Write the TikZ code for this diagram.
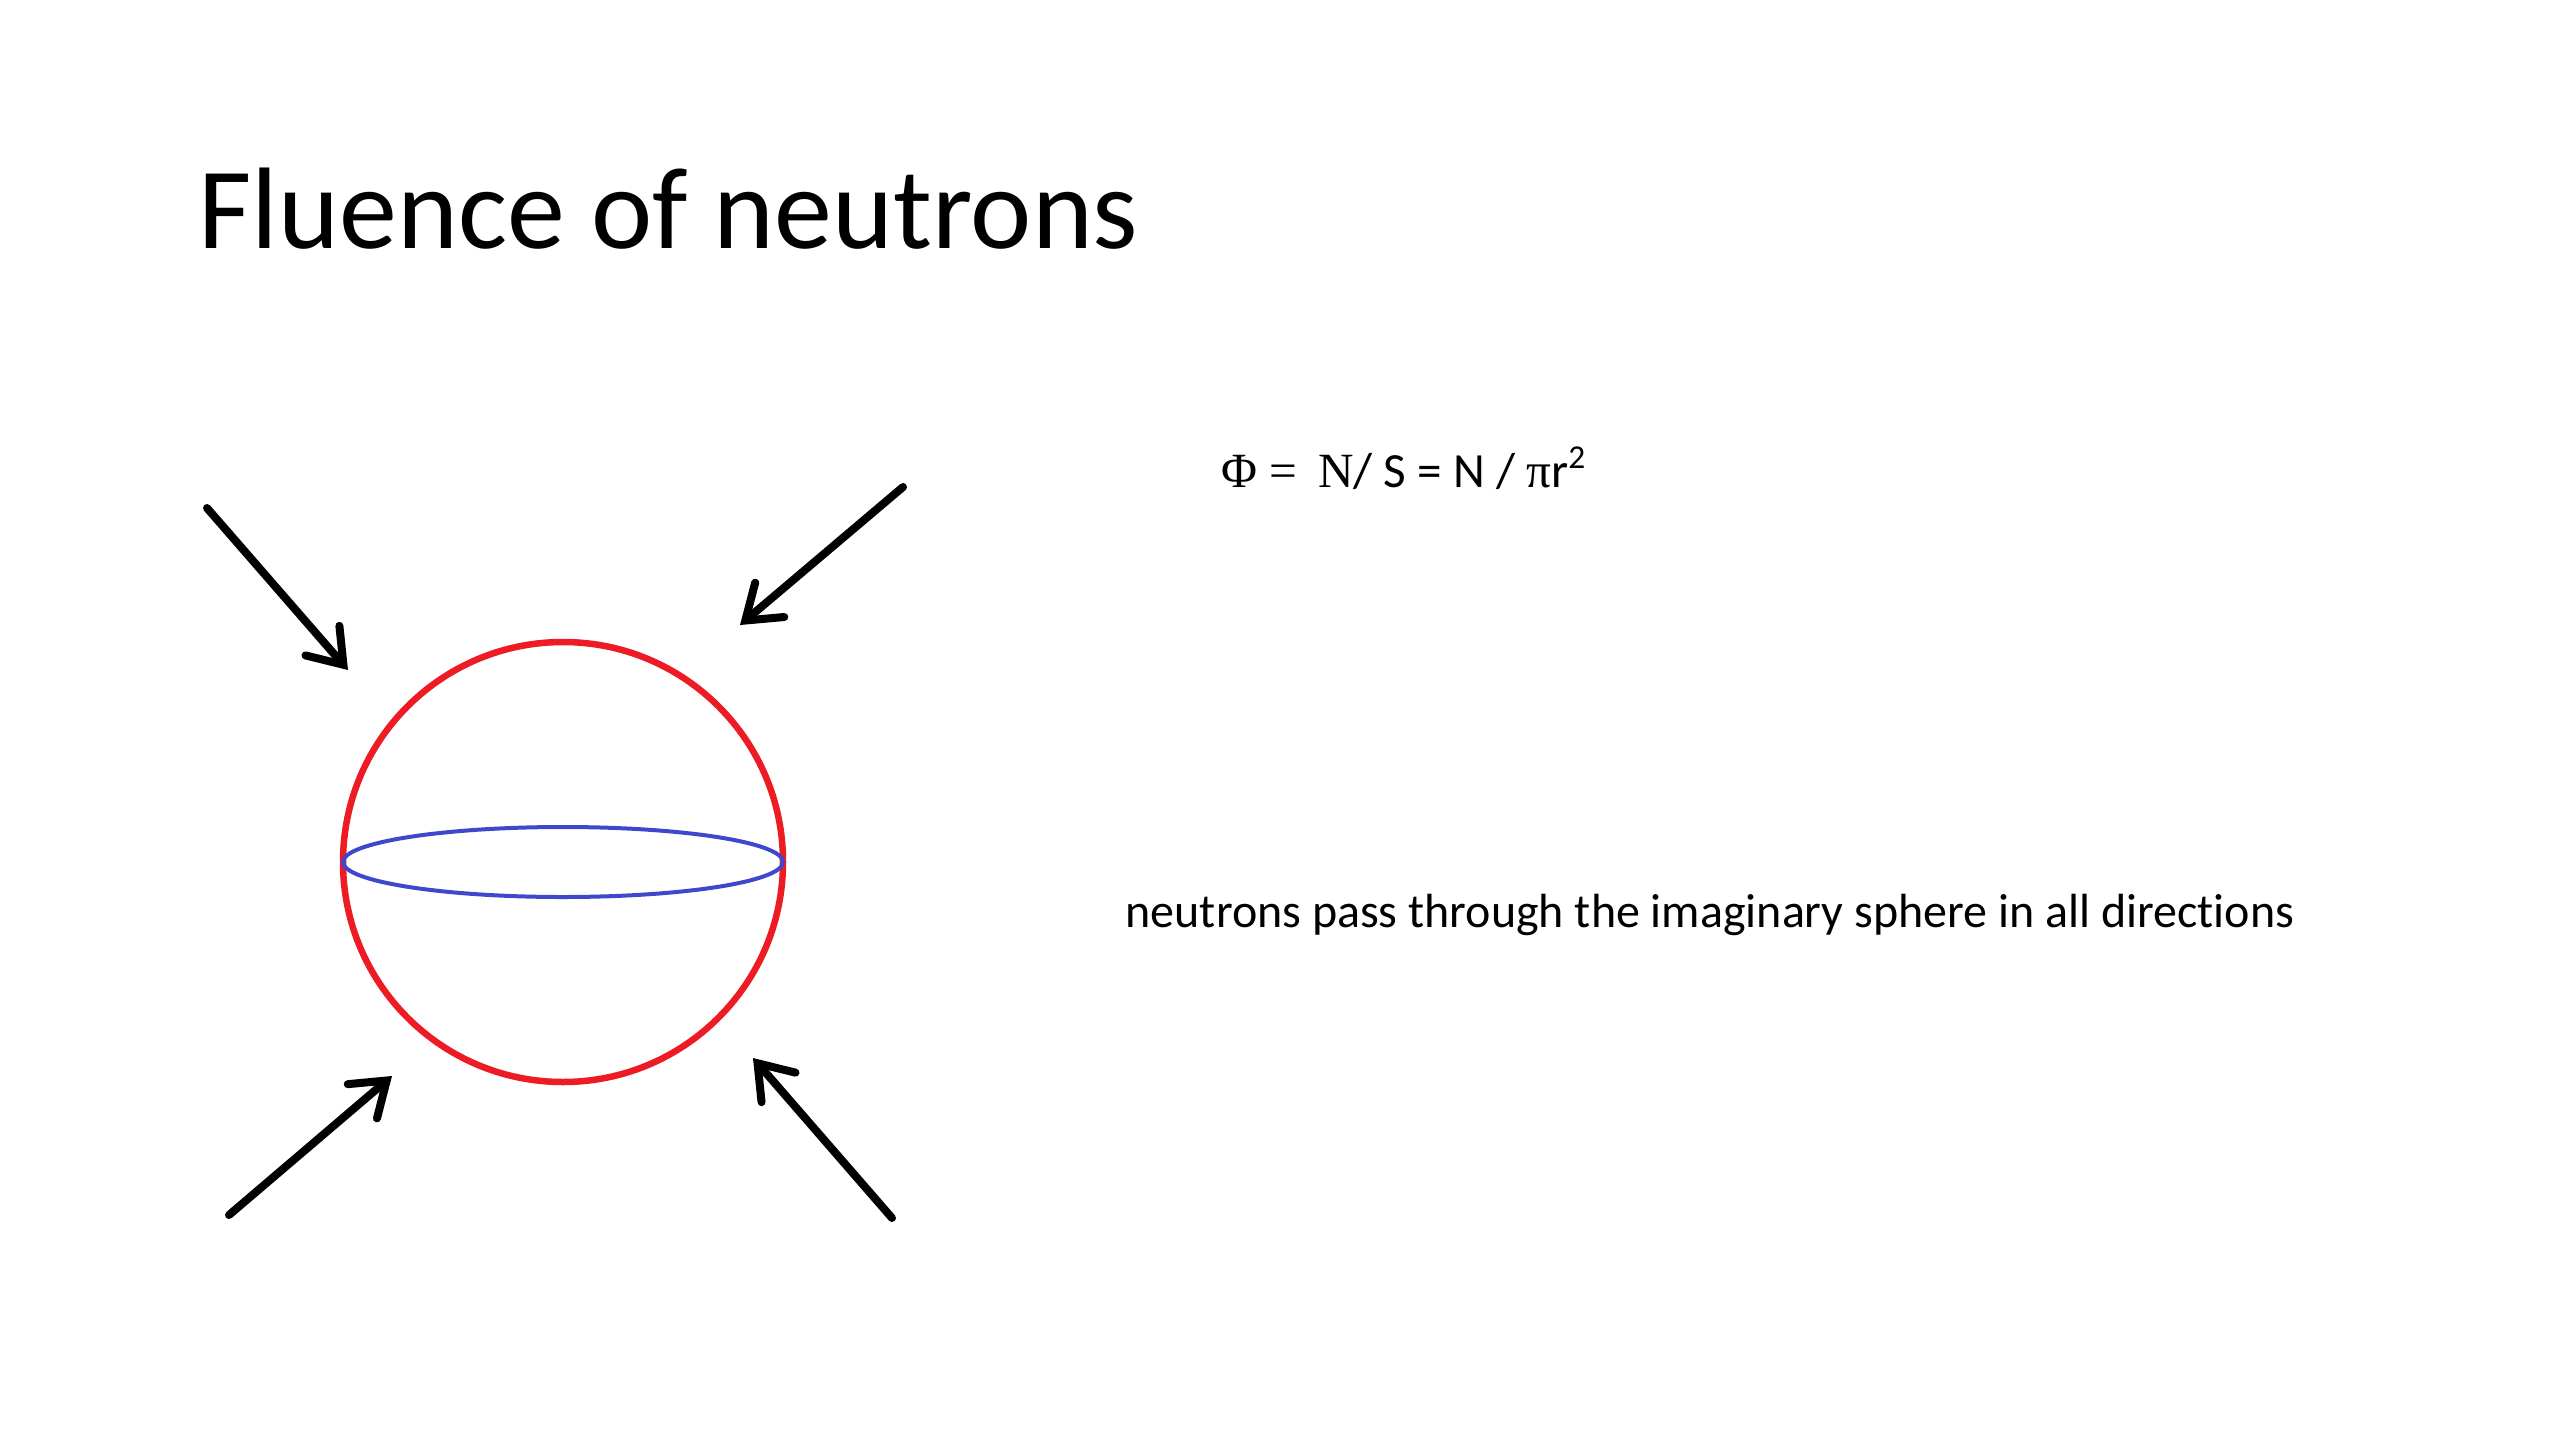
\documentclass[tikz,border=0pt]{standalone}
\usepackage{fontspec}
\setmainfont{Carlito}[Ligatures=NoCommon]
\newfontfamily\symfont{Liberation Serif}
\usetikzlibrary{arrows.meta}

\definecolor{spherered}{RGB}{237,28,36}
\definecolor{equatorblue}{RGB}{63,72,204}

\begin{document}
\begin{tikzpicture}[
        title/.style={anchor=base west, inner sep=0pt, font=\fontsize{33}{40}\selectfont},
        formula/.style={anchor=base west, inner sep=0pt, font=\fontsize{14}{17}\selectfont},
        note/.style={anchor=base west, inner sep=0pt, font=\fontsize{13.65}{16}\selectfont},
        sphere/.style={draw=spherered, circle, line width=0.065cm, minimum size=4.4cm, inner sep=0pt},
        equator/.style={draw=equatorblue, line width=0.04cm},
        neutron/.style={-{Straight Barb[length=0.32cm, width=0.45cm, line width=0.08cm, line cap=round]}, line width=0.08cm, line cap=round}
    ]
        \useasboundingbox (0,0) rectangle (25.6,-14.4);

        % --- Title ---
        \node[title] (head) at (1.98, -2.48) {Fluence of neutrons};

        % --- Imaginary sphere ---
        \node[sphere] (ball) at (5.63, -8.62) {};
        \draw[equator] (ball.center) ellipse (2.2 and 0.35);

        % --- Incoming neutrons ---
        \coordinate (tlout) at (2.07, -5.08);
        \coordinate (tlin) at (3.48, -6.70);
        \coordinate (trout) at (9.03, -4.87);
        \coordinate (trin) at (7.40, -6.25);
        \coordinate (blout) at (2.29, -12.15);
        \coordinate (blin) at (3.92, -10.76);
        \coordinate (brout) at (8.92, -12.18);
        \coordinate (brin) at (7.53, -10.58);
        \draw[neutron] (tlout) -- (tlin);
        \draw[neutron] (trout) -- (trin);
        \draw[neutron] (blout) -- (blin);
        \draw[neutron] (brout) -- (brin);

        % --- Fluence formula ---
        \node[formula] (flux) at (12.21, -4.87) {{\symfont Φ =\, N}/ S = N / {\symfont π}r\textsuperscript{\fontsize{9.5}{11}\selectfont 2}};

        % --- Note ---
        \node[note] (pass) at (11.25, -9.27) {neutrons pass through the imaginary sphere in all directions};

    \end{tikzpicture}
\end{document}
